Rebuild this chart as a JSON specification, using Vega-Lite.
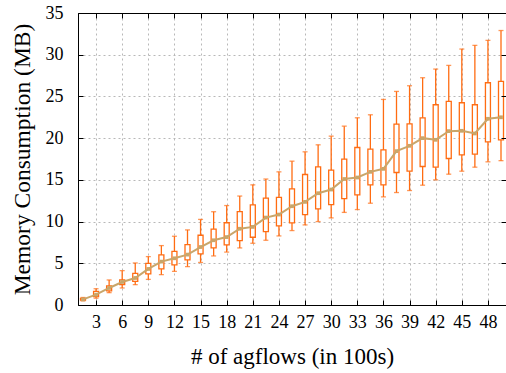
{
  "$schema": "https://vega.github.io/schema/vega-lite/v6.json",
  "width": 428,
  "height": 292,
  "autosize": {"type": "none"},
  "padding": {"left": 78, "top": 13, "right": 0, "bottom": 68},
  "background": "white",
  "config": {
    "view": {"stroke": "black", "strokeWidth": 1},
    "font": "Times New Roman, Liberation Serif, serif",
    "axis": {
      "labelFont": "Times New Roman, Liberation Serif, serif",
      "titleFont": "Times New Roman, Liberation Serif, serif",
      "labelColor": "black",
      "titleColor": "black",
      "labelFontSize": 18,
      "titleFontSize": 22,
      "titleFontWeight": "normal",
      "domainColor": "black",
      "tickColor": "black",
      "gridColor": "#b8b8b8",
      "gridDash": [2, 3],
      "gridWidth": 1
    }
  },
  "data": {"values": [
    {"x": 1.5, "lo": 0.5, "q1": 0.6, "q3": 0.8, "hi": 0.9, "mean": 0.67},
    {"x": 3, "lo": 0.82, "q1": 1.0, "q3": 1.63, "hi": 1.95, "mean": 1.24},
    {"x": 4.5, "lo": 1.48, "q1": 1.7, "q3": 2.3, "hi": 3.0, "mean": 2.04},
    {"x": 6, "lo": 2.04, "q1": 2.44, "q3": 3.0, "hi": 4.12, "mean": 2.76},
    {"x": 7.5, "lo": 2.44, "q1": 2.83, "q3": 3.8, "hi": 5.04, "mean": 3.24},
    {"x": 9, "lo": 3.07, "q1": 3.72, "q3": 5.0, "hi": 5.8, "mean": 4.32},
    {"x": 10.5, "lo": 3.64, "q1": 4.32, "q3": 6.0, "hi": 7.12, "mean": 5.2},
    {"x": 12, "lo": 4.03, "q1": 4.8, "q3": 6.43, "hi": 8.24, "mean": 5.6},
    {"x": 13.5, "lo": 4.6, "q1": 5.4, "q3": 7.24, "hi": 9.0, "mean": 6.04},
    {"x": 15, "lo": 5.1, "q1": 6.12, "q3": 8.36, "hi": 10.26, "mean": 6.95},
    {"x": 16.5, "lo": 5.88, "q1": 6.84, "q3": 9.1, "hi": 11.18, "mean": 7.76},
    {"x": 18, "lo": 6.34, "q1": 7.2, "q3": 9.86, "hi": 11.92, "mean": 8.14},
    {"x": 19.5, "lo": 6.84, "q1": 7.72, "q3": 11.2, "hi": 13.06, "mean": 9.14},
    {"x": 21, "lo": 7.4, "q1": 8.12, "q3": 12.0, "hi": 14.4, "mean": 9.36},
    {"x": 22.5, "lo": 7.76, "q1": 8.8, "q3": 12.8, "hi": 15.1, "mean": 10.48},
    {"x": 24, "lo": 8.28, "q1": 9.48, "q3": 12.9, "hi": 15.96, "mean": 10.84},
    {"x": 25.5, "lo": 8.92, "q1": 9.84, "q3": 13.92, "hi": 17.24, "mean": 11.84},
    {"x": 27, "lo": 9.6, "q1": 10.84, "q3": 15.64, "hi": 18.36, "mean": 12.36},
    {"x": 28.5, "lo": 10.0, "q1": 11.52, "q3": 16.56, "hi": 19.2, "mean": 13.4},
    {"x": 30, "lo": 10.44, "q1": 12.04, "q3": 16.16, "hi": 20.24, "mean": 13.84},
    {"x": 31.5, "lo": 11.1, "q1": 12.76, "q3": 17.48, "hi": 21.44, "mean": 15.1},
    {"x": 33, "lo": 11.44, "q1": 13.2, "q3": 18.88, "hi": 22.44, "mean": 15.28},
    {"x": 34.5, "lo": 12.2, "q1": 14.4, "q3": 18.68, "hi": 22.8, "mean": 15.96},
    {"x": 36, "lo": 12.96, "q1": 14.4, "q3": 18.6, "hi": 24.64, "mean": 16.32},
    {"x": 37.5, "lo": 13.48, "q1": 15.88, "q3": 21.68, "hi": 25.6, "mean": 18.44},
    {"x": 39, "lo": 13.72, "q1": 16.04, "q3": 21.72, "hi": 26.28, "mean": 19.08},
    {"x": 40.5, "lo": 14.36, "q1": 16.6, "q3": 22.44, "hi": 27.24, "mean": 20.0},
    {"x": 42, "lo": 15.0, "q1": 16.52, "q3": 24.0, "hi": 28.28, "mean": 19.8},
    {"x": 43.5, "lo": 15.68, "q1": 17.56, "q3": 24.4, "hi": 28.72, "mean": 20.84},
    {"x": 45, "lo": 16.04, "q1": 18.0, "q3": 24.24, "hi": 30.68, "mean": 20.88},
    {"x": 46.5, "lo": 16.52, "q1": 18.08, "q3": 24.0, "hi": 31.12, "mean": 20.56},
    {"x": 48, "lo": 17.16, "q1": 19.56, "q3": 26.64, "hi": 31.72, "mean": 22.32},
    {"x": 49.5, "lo": 17.3, "q1": 19.8, "q3": 26.8, "hi": 32.9, "mean": 22.5}
  ]},
  "resolve": {"axis": {"x": "independent", "y": "independent"}},
  "layer": [
    {
      "mark": {"type": "rule", "color": "#ff6c12", "strokeWidth": 1.3, "clip": true},
      "encoding": {
        "x": {
          "field": "x", "type": "quantitative",
          "scale": {"domain": [1.5, 49.5], "nice": false, "zero": false},
          "axis": {
            "title": "# of agflows (in 100s)",
            "titleFontSize": 23,
            "values": [3, 6, 9, 12, 15, 18, 21, 24, 27, 30, 33, 36, 39, 42, 45, 48],
            "tickSize": -5,
            "labelPadding": 13,
            "titlePadding": 14,
            "grid": true,
            "labelFlush": false
          }
        },
        "y": {
          "field": "lo", "type": "quantitative",
          "scale": {"domain": [0, 35], "nice": false},
          "axis": {
            "title": "Memory Consumption (MB)",
            "titleFontSize": 23.5,
            "values": [0, 5, 10, 15, 20, 25, 30, 35],
            "tickSize": -5,
            "labelPadding": 20,
            "titlePadding": 11,
            "grid": true
          }
        },
        "y2": {"field": "hi"}
      }
    },
    {
      "mark": {"type": "tick", "color": "#ff6c12", "orient": "horizontal", "size": 5, "thickness": 1.3, "clip": true},
      "encoding": {
        "x": {"field": "x", "type": "quantitative", "axis": null},
        "y": {"field": "lo", "type": "quantitative", "axis": null}
      }
    },
    {
      "mark": {"type": "tick", "color": "#ff6c12", "orient": "horizontal", "size": 5, "thickness": 1.3, "clip": true},
      "encoding": {
        "x": {"field": "x", "type": "quantitative", "axis": null},
        "y": {"field": "hi", "type": "quantitative", "axis": null}
      }
    },
    {
      "mark": {"type": "bar", "fill": "white", "stroke": "#ff6c12", "strokeWidth": 1.3, "size": 5, "clip": true},
      "encoding": {
        "x": {"field": "x", "type": "quantitative", "axis": null},
        "y": {"field": "q1", "type": "quantitative", "axis": null},
        "y2": {"field": "q3"}
      }
    },
    {
      "mark": {"type": "line", "color": "#c9a66a", "strokeWidth": 2, "clip": true},
      "encoding": {
        "x": {"field": "x", "type": "quantitative", "axis": null},
        "y": {"field": "mean", "type": "quantitative", "axis": null}
      }
    },
    {
      "mark": {"type": "point", "shape": "square", "filled": true, "color": "#c9a66a", "size": 14, "opacity": 1, "clip": true},
      "encoding": {
        "x": {
          "field": "x", "type": "quantitative",
          "axis": {
            "orient": "top", "title": null, "labels": false, "grid": false,
            "values": [3, 6, 9, 12, 15, 18, 21, 24, 27, 30, 33, 36, 39, 42, 45, 48],
            "tickSize": -5, "domain": true, "zindex": 1
          }
        },
        "y": {
          "field": "mean", "type": "quantitative",
          "axis": {
            "orient": "right", "title": null, "labels": false, "grid": false,
            "values": [0, 5, 10, 15, 20, 25, 30, 35],
            "tickSize": -5, "domain": true, "zindex": 1
          }
        }
      }
    }
  ]
}
